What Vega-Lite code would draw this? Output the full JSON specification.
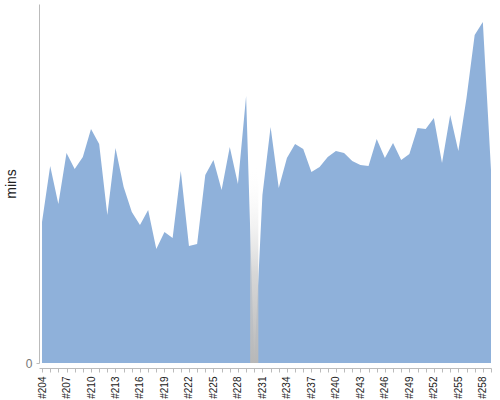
{
  "$schema": "https://vega.github.io/schema/vega-lite/v6.json",
  "width": 452,
  "height": 359,
  "autosize": {"type": "none"},
  "padding": {"left": 39, "top": 4, "right": 9, "bottom": 37},
  "background": "white",
  "config": {
    "view": {"stroke": null},
    "font": "Liberation Sans"
  },
  "data": {
    "values": [
      {"build": 204, "mins": 14.1}, {"build": 205, "mins": 19.7}, {"build": 206, "mins": 15.9},
      {"build": 207, "mins": 21.0}, {"build": 208, "mins": 19.4}, {"build": 209, "mins": 20.6},
      {"build": 210, "mins": 23.4}, {"build": 211, "mins": 21.9}, {"build": 212, "mins": 14.8},
      {"build": 213, "mins": 21.5}, {"build": 214, "mins": 17.6}, {"build": 215, "mins": 15.1},
      {"build": 216, "mins": 13.8}, {"build": 217, "mins": 15.3}, {"build": 218, "mins": 11.4},
      {"build": 219, "mins": 13.1}, {"build": 220, "mins": 12.5}, {"build": 221, "mins": 19.2},
      {"build": 222, "mins": 11.7}, {"build": 223, "mins": 11.9}, {"build": 224, "mins": 18.8},
      {"build": 225, "mins": 20.3}, {"build": 226, "mins": 17.3}, {"build": 227, "mins": 21.6},
      {"build": 228, "mins": 17.9}, {"build": 229, "mins": 26.7}, {"build": 230, "mins": 0},
      {"build": 231, "mins": 16.8}, {"build": 232, "mins": 23.6}, {"build": 233, "mins": 17.5},
      {"build": 234, "mins": 20.5}, {"build": 235, "mins": 21.9}, {"build": 236, "mins": 21.4},
      {"build": 237, "mins": 19.1}, {"build": 238, "mins": 19.6}, {"build": 239, "mins": 20.6},
      {"build": 240, "mins": 21.2}, {"build": 241, "mins": 21.0}, {"build": 242, "mins": 20.2},
      {"build": 243, "mins": 19.8}, {"build": 244, "mins": 19.7}, {"build": 245, "mins": 22.4},
      {"build": 246, "mins": 20.5}, {"build": 247, "mins": 22.0}, {"build": 248, "mins": 20.3},
      {"build": 249, "mins": 20.9}, {"build": 250, "mins": 23.5}, {"build": 251, "mins": 23.4},
      {"build": 252, "mins": 24.5}, {"build": 253, "mins": 20.0}, {"build": 254, "mins": 24.8},
      {"build": 255, "mins": 21.2}, {"build": 256, "mins": 26.5}, {"build": 257, "mins": 32.8},
      {"build": 258, "mins": 34.1}, {"build": 259, "mins": 19.3}
    ]
  },
  "layer": [
    {
      "mark": {"type": "area", "color": "#8fb1da", "opacity": 1, "interpolate": "linear"},
      "encoding": {
        "x": {
          "field": "build",
          "type": "quantitative",
          "scale": {"domain": [203.63, 259], "nice": false, "zero": false},
          "axis": {
            "title": null,
            "values": [204,205,206,207,208,209,210,211,212,213,214,215,216,217,218,219,220,221,222,223,224,225,226,227,228,229,230,231,232,233,234,235,236,237,238,239,240,241,242,243,244,245,246,247,248,249,250,251,252,253,254,255,256,257,258,259],
            "tickCount": 100,
            "labelExpr": "datum.value % 3 == 0 ? '#' + datum.value : ''",
            "labelAngle": -90,
            "labelFontSize": 10,
            "labelColor": "#222",
            "labelPadding": 4,
            "labelOverlap": false,
            "labelFlush": false,
            "grid": false,
            "offset": 5,
            "tickSize": 4,
            "tickColor": "#bbb",
            "domainColor": "#bbb"
          }
        },
        "y": {
          "field": "mins",
          "type": "quantitative",
          "scale": {"domain": [0, 35.9], "nice": false},
          "axis": {
            "title": "mins",
            "titleFontSize": 14,
            "titleFontWeight": "normal",
            "titleColor": "#222",
            "titlePadding": 7,
            "values": [0],
            "labelFontSize": 12,
            "labelColor": "#777",
            "labelPadding": 4,
            "grid": false,
            "tickSize": 3,
            "tickColor": "#bbb",
            "domainColor": "#bbb"
          }
        }
      }
    },
    {
      "data": {"values": [{"band": "build #230"}]},
      "mark": {
        "type": "rect",
        "fill": {
          "gradient": "linear",
          "x1": 0, "y1": 0, "x2": 0, "y2": 1,
          "stops": [
            {"offset": 0, "color": "rgba(255,255,255,0)"},
            {"offset": 0.45, "color": "rgba(255,255,255,0)"},
            {"offset": 0.75, "color": "rgba(205,205,205,0.8)"},
            {"offset": 1, "color": "#b8b8b8"}
          ]
        }
      },
      "encoding": {
        "x": {"datum": 229.5, "type": "quantitative"},
        "x2": {"datum": 230.5},
        "y": {"datum": 0, "type": "quantitative"},
        "y2": {"datum": 35.9}
      }
    }
  ]
}
